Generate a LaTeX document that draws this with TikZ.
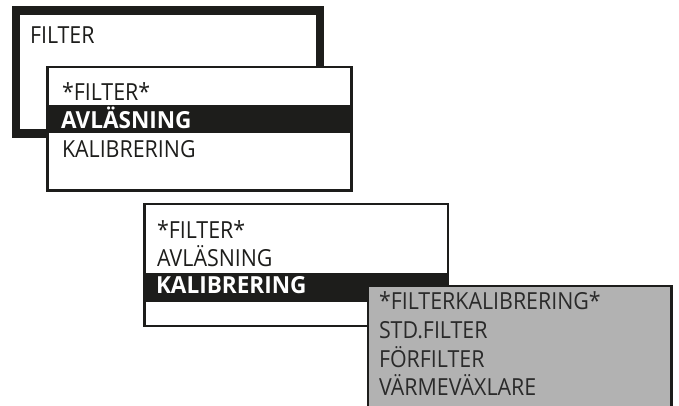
\documentclass[tikz,border=0pt]{standalone}
\usepackage{fontspec}
\setmainfont{Open Sans}
\definecolor{ink}{HTML}{1D1D1B}
\definecolor{panelgray}{HTML}{B2B2B2}
\definecolor{graytext}{HTML}{2A2A2A}
\newcommand{\narrowtxt}[1]{\scalebox{0.91}[1]{#1}}
\newcommand{\narrowbold}[1]{\scalebox{0.96}[1]{#1}}
\tikzset{
  menutext/.style={anchor=base west, inner sep=0pt, outer sep=0pt, text=ink, font=\fontsize{23.5}{23.5}\selectfont},
  seltext/.style={menutext, text=white, font=\fontsize{23.5}{23.5}\selectfont\bfseries},
  graymenutext/.style={menutext, text=graytext},
  framebox/.style={draw=ink, line width=2.5pt, fill=white},
  selbar/.style={fill=ink, draw=none},
}
\begin{document}
\begin{tikzpicture}[x=1pt,y=-1pt]
\useasboundingbox (0,0) rectangle (679,405);
% outer thick frame
\draw[ink, line width=8.5pt, fill=white] (16,10.5) rectangle (320,133.5);
\node[menutext] (t0) at (30,43.5) {\narrowtxt{FILTER}};
% box 1
\draw[framebox] (47.5,67) rectangle (351.5,190.5);
\fill[selbar] (47.5,105) rectangle (351.5,133);
\node[menutext] (a1) at (62,100.5) {\narrowtxt{*FILTER*}};
\node[seltext] (a2) at (61,128.5) {\narrowbold{AVLÄSNING}};
\node[menutext] (a3) at (62,157) {\narrowtxt{KALIBRERING}};
% box 2
\draw[framebox] (144.5,204) rectangle (448,326);
\fill[selbar] (144.5,273) rectangle (448,302);
\node[menutext] (b1) at (157,238) {\narrowtxt{*FILTER*}};
\node[menutext] (b2) at (157,266) {\narrowtxt{AVLÄSNING}};
\node[seltext] (b3) at (156,293) {\narrowbold{KALIBRERING}};
% gray box
\fill[panelgray] (368,286) rectangle (671.5,410);
\draw[ink, line width=2.5pt] (368,410) -- (368,286) -- (671.5,286) -- (671.5,410);
\node[graymenutext] (c1) at (379,309.5) {\narrowtxt{*FILTERKALIBRERING*}};
\node[graymenutext] (c2) at (379,338.5) {\narrowtxt{STD.FILTER}};
\node[graymenutext] (c3) at (379,367) {\narrowtxt{FÖRFILTER}};
\node[graymenutext] (c4) at (379,395.5) {\narrowtxt{VÄRMEVÄXLARE}};
\end{tikzpicture}
\end{document}
